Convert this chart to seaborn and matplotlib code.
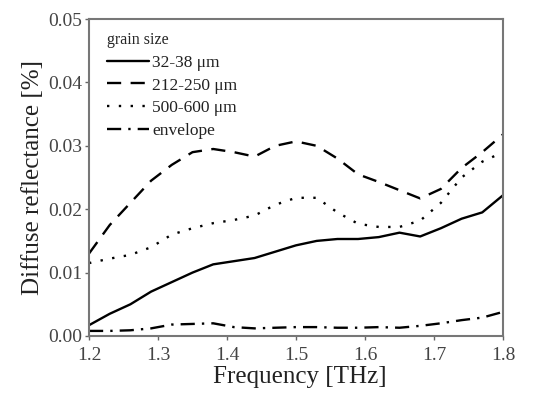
import matplotlib
matplotlib.use("Agg")
import matplotlib.pyplot as plt
import seaborn as sns
import pandas as pd

freq = [1.20, 1.23, 1.26, 1.29, 1.32, 1.35, 1.38, 1.41, 1.44, 1.47, 1.50,
        1.53, 1.56, 1.59, 1.62, 1.65, 1.68, 1.71, 1.74, 1.77, 1.80]
fine = [0.0017, 0.0035, 0.0050, 0.0070, 0.0085, 0.0100, 0.0113, 0.0118, 0.0123, 0.0133, 0.0143,
        0.0150, 0.0153, 0.0153, 0.0156, 0.0163, 0.0157, 0.0170, 0.0185, 0.0195, 0.0222]
medium = [0.0130, 0.0175, 0.0210, 0.0245, 0.0270, 0.0290, 0.0295, 0.0290, 0.0283, 0.0300, 0.0307,
          0.0300, 0.0280, 0.0255, 0.0243, 0.0230, 0.0217, 0.0232, 0.0265, 0.0290, 0.0318]
coarse = [0.0115, 0.0122, 0.0128, 0.0140, 0.0160, 0.0170, 0.0178, 0.0183, 0.0190, 0.0207, 0.0218,
          0.0218, 0.0195, 0.0177, 0.0172, 0.0172, 0.0182, 0.0210, 0.0250, 0.0275, 0.0290]
envelope = [0.0008, 0.0008, 0.0009, 0.0012, 0.0018, 0.0019, 0.0020, 0.0014, 0.0012, 0.0013, 0.0014,
            0.0014, 0.0013, 0.0013, 0.0014, 0.0013, 0.0016, 0.0020, 0.0025, 0.0029, 0.0038]
labels = ["32-38 μm", "212-250 μm", "500-600 μm", "envelope"]

sns.set_style("ticks")
plt.rcParams['font.family'] = ['Liberation Serif', 'DejaVu Serif']

fig = plt.figure(figsize=(5.44, 3.97), dpi=100)
ax = fig.add_axes([0.1636, 0.1537, 0.761, 0.7983])

styles = ['-', (0, (6, 4)), (0, (1, 4)), (0, (6, 3, 1, 3))]
for vals, lab, ls in zip([fine, medium, coarse, envelope], labels, styles):
    df = pd.DataFrame({"f": freq, "r": vals})
    sns.lineplot(data=df, x="f", y="r", ax=ax, color="black", linewidth=1.7,
                 linestyle=ls, label=lab)

ax.set_xlim(1.2, 1.8)
ax.set_ylim(0, 0.05)
ax.set_xticks([1.2, 1.3, 1.4, 1.5, 1.6, 1.7, 1.8])
ax.set_xticklabels(["1.2", "1.3", "1.4", "1.5", "1.6", "1.7", "1.8"])
ax.set_yticks([0, 0.01, 0.02, 0.03, 0.04, 0.05])
ax.set_yticklabels(["0.00", "0.01", "0.02", "0.03", "0.04", "0.05"])
ax.tick_params(labelsize=14, colors="#666666", length=3, width=1)
ax.tick_params(axis="x", pad=5)
ax.tick_params(axis="y", pad=2)
for t in ax.get_xticklabels() + ax.get_yticklabels():
    t.set_color("#444444")
for s in ax.spines.values():
    s.set_color("#777777")
    s.set_linewidth(1.5)
ax.set_xlabel("Frequency [THz]", fontsize=18, color="#222222", labelpad=1)
ax.xaxis.set_label_coords(0.51, -0.095, transform=ax.transAxes)
ax.xaxis.label.set_va("top")
ax.set_ylabel("Diffuse reflectance [%]", fontsize=18, color="#222222", labelpad=3)

leg = ax.legend(title="grain size", loc="upper left", bbox_to_anchor=(0.035, 0.97),
                frameon=False, fontsize=12.5, title_fontsize=11.5, handlelength=2.4,
                handletextpad=0.2, labelspacing=0.38, alignment="left",
                borderaxespad=0.0, borderpad=0.2)
for t in leg.get_texts():
    t.set_color("#222222")

fig.savefig("out.png", dpi=100)
